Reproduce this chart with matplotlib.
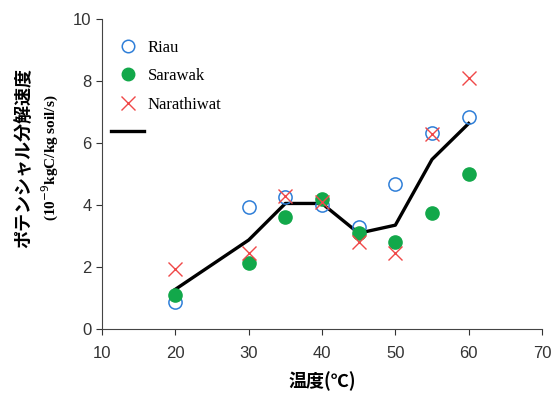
import matplotlib.pyplot as plt
from matplotlib.lines import Line2D

# 温度
temps = [20, 30, 35, 40, 45, 50, 55, 60]

# 各地点のポテンシャル分解速度
riau = [0.88, 3.95, 4.25, 3.99, 3.30, 4.67, 6.31, 6.83]
sarawak = [1.10, 2.12, 3.60, 4.18, 3.09, 2.82, 3.75, 5.00]
narathiwat = [1.93, 2.44, 4.29, 4.09, 2.82, 2.44, 6.29, 8.10]
mean_line = [1.28, 2.87, 4.05, 4.05, 3.09, 3.35, 5.47, 6.63]

x_ticks = [10, 20, 30, 40, 50, 60, 70]
y_ticks = [0, 2, 4, 6, 8, 10]

plt.rcParams['font.family'] = ['Liberation Serif', 'Noto Sans CJK JP']

fig = plt.figure(figsize=(5.56, 3.99), dpi=100)
ax = fig.add_axes([0.1835, 0.1754, 0.7913, 0.777])

ax.plot(temps, mean_line, color='black', lw=2.4, zorder=2)
ax.plot(temps, riau, 'o', mfc='none', mec='#2f7fd8', mew=1.1, ms=9.5, zorder=3)
ax.plot(temps, sarawak, 'o', color='#12a84a', ms=9.5, zorder=3)
ax.plot(temps, narathiwat, 'x', color='#f04848', mew=1.0, ms=10, zorder=4)

ax.set_xlim(10, 70)
ax.set_ylim(0, 10)
ax.set_xticks(x_ticks)
ax.set_yticks(y_ticks)
ax.tick_params(labelsize=12, length=4, width=0.8, colors='#333333')
ax.tick_params(axis='x', pad=8)
for lab in ax.get_xticklabels() + ax.get_yticklabels():
    lab.set_family(['Liberation Sans Narrow', 'Liberation Sans'])
for s in ['top', 'right']:
    ax.spines[s].set_visible(False)
for s in ['left', 'bottom']:
    ax.spines[s].set_color('#444444')

ax.set_xlabel('温度(℃)', fontsize=13, fontweight='bold',
              family=['Noto Sans CJK JP'], labelpad=8)
fig.text(0.045, 0.604, 'ポテンシャル分解速度', rotation=90, ha='center', va='center',
         fontsize=13, fontweight='bold', family=['Noto Sans CJK JP'])
fig.text(0.09, 0.604, '(10$^{-9}$kgC/kg soil/s)', rotation=90, ha='center', va='center',
         fontsize=11, fontweight='bold', family=['Liberation Serif'])

handles = [
    Line2D([], [], ls='none', marker='o', mfc='none', mec='#2f7fd8', mew=1.1, ms=9),
    Line2D([], [], ls='none', marker='o', color='#12a84a', ms=9),
    Line2D([], [], ls='none', marker='x', color='#f04848', mew=1.0, ms=10),
    Line2D([], [], color='black', lw=2.4),
]
ax.legend(handles, ['Riau', 'Sarawak', 'Narathiwat', ''], loc='upper left',
          bbox_to_anchor=(0.005, 0.955), borderaxespad=0.0, frameon=False,
          fontsize=12, handlelength=2.0, labelspacing=0.75, handletextpad=0.2)

fig.savefig('out.png', dpi=100)
